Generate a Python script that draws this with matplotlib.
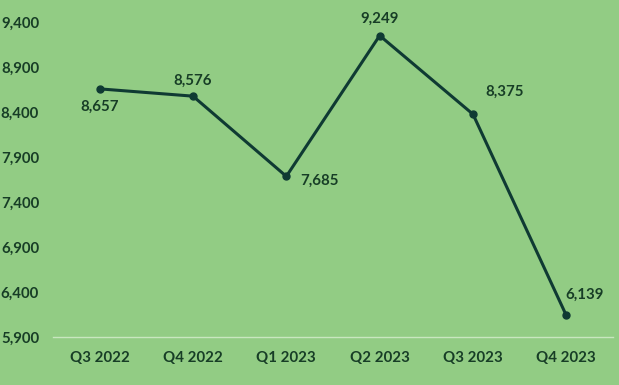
import matplotlib.pyplot as plt

quarters = ["Q3 2022", "Q4 2022", "Q1 2023", "Q2 2023", "Q3 2023", "Q4 2023"]
values = [8657, 8576, 7685, 9249, 8375, 6139]
yticks = [5900, 6400, 6900, 7400, 7900, 8400, 8900, 9400]

bg = "#92cc84"
line_c = "#0f3a33"
text_c = "#173d26"

plt.rcParams["font.family"] = ["Lato", "DejaVu Sans"]

fig = plt.figure(figsize=(6.19, 3.85), dpi=100, facecolor=bg)
ax = fig.add_axes([53 / 619, 48 / 385, 560 / 619, 315 / 385], facecolor=bg)

x = list(range(len(quarters)))
ax.plot(x, values, color=line_c, lw=2.2, marker="o", ms=5, zorder=3)

# label placement (offset in points, horizontal alignment)
offsets = [((0, -8), "center", "top"),
           ((0, 6), "center", "bottom"),
           ((10, -3), "left", "center"),
           ((0, 7), "center", "bottom"),
           ((9, 16), "left", "center"),
           ((-1, 15), "left", "center")]
for xi, v, (off, ha, va) in zip(x, values, offsets):
    ax.annotate(f"{v:,}", (xi, v), xytext=off, textcoords="offset points",
                ha=ha, va=va, fontsize=10.8, fontweight="bold", color=text_c)

ax.set_xlim(-0.5, len(quarters) - 0.5)
ax.set_ylim(5900, 9400)
ax.set_xticks(x)
ax.set_xticklabels(quarters)
ax.set_yticks(yticks)
ax.set_yticklabels([f"{t:,}" for t in yticks])
ax.tick_params(length=0, labelsize=10.8, colors=text_c)
ax.tick_params(axis="x", pad=10)
ax.tick_params(axis="y", pad=10)
for lab in ax.get_xticklabels() + ax.get_yticklabels():
    lab.set_fontweight("bold")

for s in ["top", "right", "left"]:
    ax.spines[s].set_visible(False)
ax.spines["bottom"].set_color("#c8e6bf")
ax.spines["bottom"].set_linewidth(1)
ax.spines["bottom"].set_zorder(1)

fig.savefig("out.png", dpi=100, facecolor=bg)
